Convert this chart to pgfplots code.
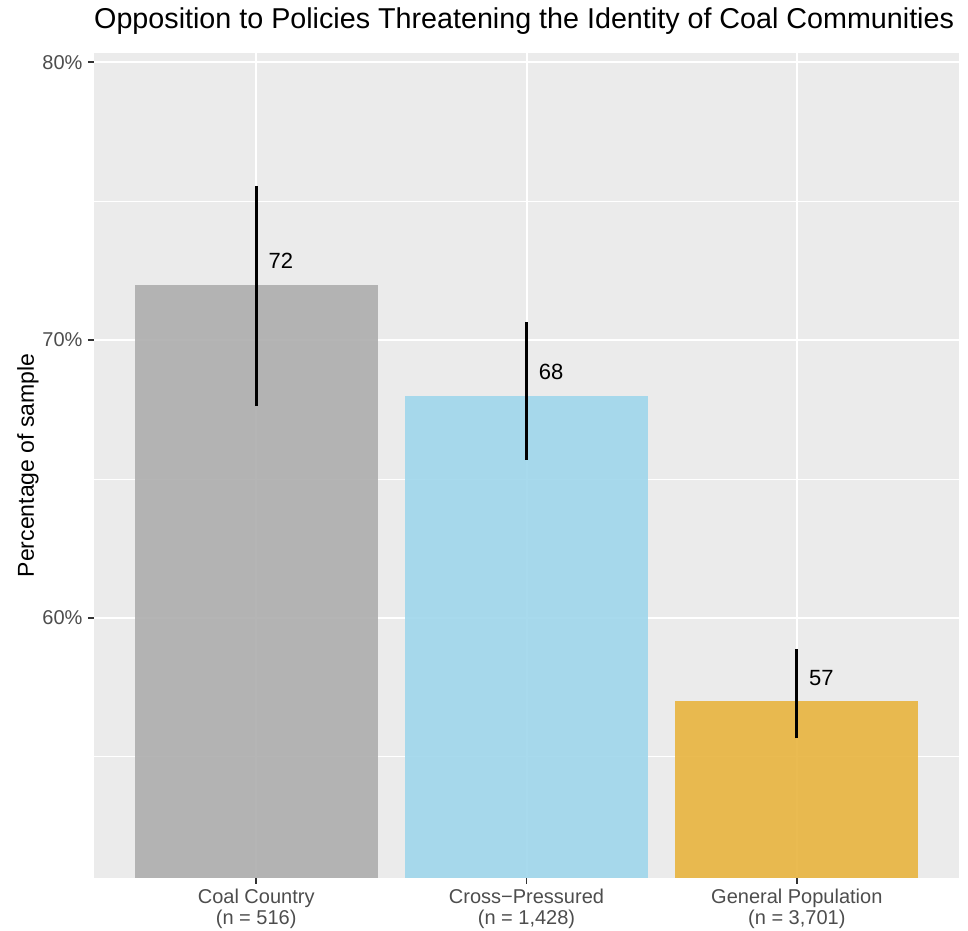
\documentclass[border=0pt]{standalone}
\usepackage{fontspec}
\setmainfont{Liberation Sans}
\usepackage{pgfplots}
\pgfplotsset{compat=1.18}

\definecolor{panelbg}{HTML}{EBEBEB}
\definecolor{ticktext}{HTML}{4D4D4D}
\definecolor{tickline}{HTML}{333333}
\definecolor{coalgray}{HTML}{ADADAD}
\definecolor{crossblue}{HTML}{9FD6EC}
\definecolor{genpop}{HTML}{E8B43F}

\begin{document}
\begin{tikzpicture}[x=1pt,y=1pt]
\useasboundingbox (0,0) rectangle (968,930);
\begin{axis}[
    at={(94pt,52.4pt)}, anchor=south west,
    scale only axis, width=865pt, height=824.6pt,
    xmin=0.4, xmax=3.6, ymin=50.66, ymax=80.33,
    axis background/.style={fill=panelbg},
    axis line style={draw=none},
    xtick={1,2,3},
    xticklabels={{Coal Country\\(n = 516)},{Cross\textminus Pressured\\(n = 1,428)},{General Population\\(n = 3,701)}},
    ytick={60,70,80},
    yticklabels={60\%,70\%,80\%},
    minor ytick={55,65,75},
    grid=both,
    major grid style={white, line width=2pt},
    minor grid style={white, line width=1pt},
    tick align=outside, tick pos=left,
    major tick length=6pt, minor tick length=0pt,
    tick style={tickline, line width=1.8pt},
    xticklabel style={align=center, text=ticktext, yshift=-2pt, font=\fontsize{20}{21}\selectfont},
    yticklabel style={text=ticktext, xshift=-2pt, font=\fontsize{20}{20}\selectfont},
    ylabel={Percentage of sample},
    ylabel style={yshift=-3pt, font=\fontsize{23}{24}\selectfont},
    title={Opposition to Policies Threatening the Identity of Coal Communities},
    title style={at={(rel axis cs:0,1)}, anchor=base west, yshift=18pt, inner sep=0pt,
                 font=\fontsize{28.7}{30}\selectfont},
    unbounded coords=jump,
]
% bars
\addplot[ybar, bar width=0.9, bar shift=0pt, draw=none, fill=coalgray, fill opacity=0.9] coordinates {(1,72)};
\addplot[ybar, bar width=0.9, bar shift=0pt, draw=none, fill=crossblue, fill opacity=0.9] coordinates {(2,68)};
\addplot[ybar, bar width=0.9, bar shift=0pt, draw=none, fill=genpop, fill opacity=0.9] coordinates {(3,57)};
% error bars (low to high, one segment per group)
\addplot[black, line width=2.7pt, mark=none]
coordinates {
    (1,67.62) (1,75.56) (1,nan)
    (2,65.70) (2,70.65) (2,nan)
    (3,55.67) (3,58.88)
};
% value labels
\addplot[only marks, mark=none, nodes near coords, point meta=explicit symbolic,
    nodes near coords style={anchor=west, inner sep=0pt, text=black, font=\fontsize{22}{24}\selectfont}]
coordinates {(1.045,72.85) [72] (2.045,68.86) [68] (3.045,57.84) [57]};
\end{axis}
\end{tikzpicture}
\end{document}
